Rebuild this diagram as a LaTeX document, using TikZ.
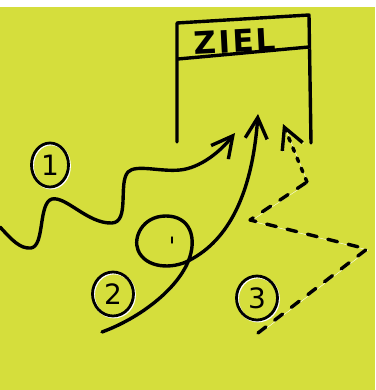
\documentclass[tikz,border=0pt]{standalone}
\usepackage{fontspec}
\setmainfont{DejaVu Sans}
\newfontfamily\zielfont[LetterSpace=8]{DejaVu Sans Bold}
\usetikzlibrary{arrows.meta, shapes.geometric}
\definecolor{lime}{RGB}{213,222,60}

\begin{document}
\begin{tikzpicture}[x=1pt,y=-1pt,
  ink/.style={line width=3.4pt,line cap=round,line join=round,
    preaction={draw=white,transform canvas={xshift=1pt,yshift=-1pt}}},
  barb/.style={-{Straight Barb[length=21pt,width=22pt]}},
  num/.style={ellipse,draw,ink,line width=2.8pt,minimum width=41pt,minimum height=44pt,
    inner sep=0pt,font=\fontsize{28}{28}\selectfont}]
  % paper
  \fill[white](0,0) rectangle (375,390);
  \fill[lime](0,7) rectangle (375,390);
  \useasboundingbox (0,0) rectangle (375,390);
  % goal box
  \draw[ink](177,142)--(177,23)--(309,15)--(311,143);
  \draw[ink](178,59)--(309,47);
  \node[font=\zielfont\fontsize{31}{31}\selectfont,rotate=3] (ziel) at (235,41){ZIEL};
  % end points in the box
  \coordinate (t1) at (235,133);
  \coordinate (t2) at (258,114);
  \coordinate (t3) at (283,124);
  % way 1: up and down
  \coordinate (s1) at (0,227);
  \draw[ink,barb](s1) .. controls (12,240) and (20,249) .. (31,248)
    .. controls (45,246) and (38,203) .. (52,199)
    .. controls (66,196) and (88,224) .. (112,223)
    .. controls (130,222) and (118,183) .. (128,172)
    .. controls (136,164) and (160,172) .. (180,170)
    .. controls (200,168) and (220,152) .. (t1);
  % way 2: with a loop
  \coordinate (s2) at (102,332);
  \draw[ink,barb](s2) .. controls (140,318) and (176,290) .. (188,262)
    .. controls (198,238) and (190,216) .. (166,216)
    .. controls (142,216) and (133,238) .. (138,250)
    .. controls (145,268) and (172,270) .. (190,260)
    .. controls (228,240) and (252,195) .. (t2);
  \draw[line width=1.4pt,line cap=round](172,237)--(172,243);
  % way 3: dashed zigzag
  \coordinate (s3) at (258,333);
  \coordinate (k3) at (307,182);
  \draw[ink,dash pattern=on 10pt off 11pt](s3)--(367,249)--(250,220)--(k3);
  \draw[ink,dash pattern=on 4pt off 7pt,barb](k3)--(t3);
  % labels
  \node[num,minimum width=37pt] (n1) at (50,165){1};
  \node[num] (n2) at (113,294){2};
  \node[num] (n3) at (257,298){3};
\end{tikzpicture}
\end{document}
